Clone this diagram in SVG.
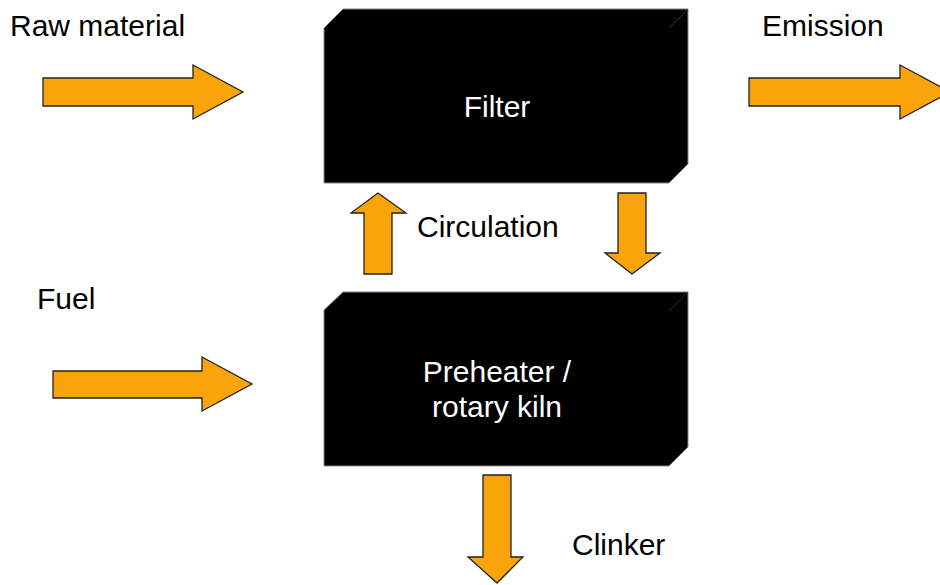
<svg xmlns="http://www.w3.org/2000/svg" width="940" height="585" viewBox="0 0 940 585">
<style>
.t{font-family:"Liberation Sans",Arial,sans-serif;font-size:30px;fill:#000}
.w{fill:#fff;text-anchor:middle}
.box{fill:#000;stroke:#888;stroke-width:1}
.arr{fill:#f9a40a;stroke:#222;stroke-width:1.3;stroke-linejoin:miter}
.edge{stroke:#333;stroke-width:1}
</style>
<rect width="940" height="585" fill="#fff"/>
<g id="filter">
<polygon class="box" points="343,9 688,9 688,164 669,183 324,183 324,28"/>
<line class="edge" x1="669" y1="28" x2="688" y2="9"/>
<text class="t w" x="497" y="117">Filter</text>
</g>
<g id="kiln">
<polygon class="box" points="343,292 688,292 688,447 669,466 324,466 324,310"/>
<line class="edge" x1="669" y1="311" x2="688" y2="292"/>
<text class="t w" x="497" y="382">Preheater /</text>
<text class="t w" x="497" y="417">rotary kiln</text>
</g>
<g id="labels">
<text class="t" x="10" y="36">Raw material</text>
<text class="t" x="762" y="36">Emission</text>
<text class="t" x="417" y="237">Circulation</text>
<text class="t" x="37" y="309">Fuel</text>
<text class="t" x="572" y="555">Clinker</text>
</g>
<g id="connectors">
<polygon class="arr" points="43,78 193,78 193,65 243,92 193,119 193,106 43,106"/>
<polygon class="arr" points="749,78 900,78 900,65 950,92 900,119 900,106 749,106"/>
<polygon class="arr" points="53,371 202,371 202,357 252,384 202,411 202,398 53,398"/>
<polygon class="arr" points="364,274 364,213 351,213 378,193 406,213 392,213 392,274"/>
<polygon class="arr" points="618,193 646,193 646,253 660,253 632,274 605,253 618,253"/>
<polygon class="arr" points="483,475 511,475 511,557 523,557 497,583 468,557 483,557"/>
</g>
</svg>
